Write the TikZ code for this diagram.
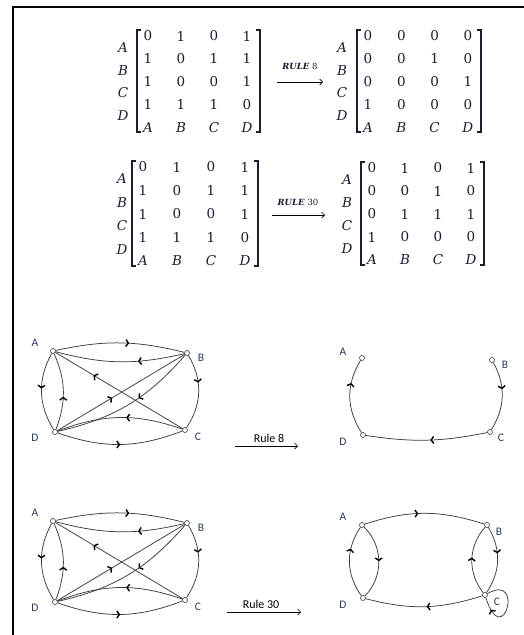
\documentclass[tikz,border=0pt]{standalone}
\usepackage{fontspec}
\newfontfamily\calib{Carlito}
\newfontfamily\camb{DejaVu Serif}
\usetikzlibrary{decorations.markings,arrows.meta}
\definecolor{navy}{HTML}{1A1D30}
\definecolor{lblc}{HTML}{2B3A5A}
\definecolor{edgec}{HTML}{3C3C3C}
\tikzset{
  ent/.style={inner sep=0pt, font=\camb\fontsize{13.5}{13.5}\selectfont, text=navy},
  brk/.style={draw=navy, line width=1.6pt},
  rulelbl/.style={inner sep=0pt, font=\camb\fontsize{8.5}{8.5}\selectfont\bfseries\itshape, text=navy},
  rulearr/.style={draw=black, line width=0.7pt, -{Straight Barb[length=3pt,width=6pt]}},
  vtx/.style={circle, draw=edgec, fill=white, inner sep=0pt, minimum size=5pt, line width=0.6pt},
  vlbl/.style={inner sep=0pt, font=\calib\fontsize{11.5}{11.5}\selectfont, text=lblc},
  ln/.style={draw=edgec, line width=0.75pt},
  ma/.style={postaction={decorate,decoration={markings,mark=at position #1 with {\arrow[black]{Straight Barb[length=2.5pt,width=7pt,line width=1.4pt]}}}}},
  ma/.default=0.5
}
\newcommand\admat[7]{%
  \foreach \rw [count=\i] in {#7} {%
    \foreach \e [count=\j] in \rw {%
      \node[ent] (#1-\i-\j) at ({#2+(\j-1)*#3},{#4+(\i-1)*#5}) {\e};
    }%
  }%
  \foreach \l [count=\j] in {A,B,C,D} {%
    \node[ent, font=\camb\itshape\fontsize{13.5}{13.5}\selectfont] (#1-c\j) at ({#2+(\j-1)*#3},{#4+4*#5}) {\l};
    \node[ent, font=\camb\itshape\fontsize{13.5}{13.5}\selectfont] (#1-r\j) at (#6,{#4+(\j-0.5)*#5}) {\l};
  }%
  \draw[brk] ({#2-7},{#4-6}) -- ({#2-11},{#4-6}) -- ({#2-11},{#4+4*#5+5}) -- ({#2-7},{#4+4*#5+5});
  \draw[brk] ({#2+3*#3+9},{#4-6}) -- ({#2+3*#3+13},{#4-6}) -- ({#2+3*#3+13},{#4+4*#5+5}) -- ({#2+3*#3+9},{#4+4*#5+5});
}
\begin{document}
\begin{tikzpicture}[x=1pt,y=-1pt]
\useasboundingbox (0,0) rectangle (524,635);
\fill[white] (0,0) rectangle (524,635);
% frame
\draw[line width=1.8pt, black] (13,640) -- (13,7) -- (524,7);

% matrices
\admat{ma}{148}{33}{36}{22.8}{123}{{0,1,0,1},{1,0,1,1},{1,0,0,1},{1,1,1,0}}
\admat{mb}{368}{33.3}{36}{22.8}{342}{{0,0,0,0},{0,0,1,0},{0,0,0,1},{1,0,0,0}}
\admat{mc}{143}{34}{167}{23.5}{122}{{0,1,0,1},{1,0,1,1},{1,0,0,1},{1,1,1,0}}
\admat{md}{372}{33}{168}{23}{347}{{0,1,0,1},{0,0,1,0},{0,1,1,1},{1,0,0,0}}

% rule arrows (matrices)
\node[rulelbl] (r8) at (300,66) {RULE\ \upshape\mdseries 8};
\coordinate (r8s) at (277,82); \coordinate (r8e) at (323,82);
\draw[rulearr] (r8s) -- (r8e);
\node[rulelbl] (r30) at (298,202) {RULE\ \upshape\mdseries 30};
\coordinate (r30s) at (272,215); \coordinate (r30e) at (325,215);
\draw[rulearr] (r30s) -- (r30e);

% graph 1 and graph 3 (same)
\foreach \g/\dy in {g1/0, g3/170} {
\begin{scope}[shift={(0,\dy)}]
  \node[vtx] (\g A) at (53,351) {};
  \node[vtx] (\g B) at (187,353) {};
  \node[vtx] (\g C) at (185,430) {};
  \node[vtx] (\g D) at (55,432) {};
  \node[vlbl] (\g lA) at (35,343) {A};
  \node[vlbl] (\g lB) at (201,358) {B};
  \node[vlbl] (\g lC) at (198,437) {C};
  \node[vlbl] (\g lD) at (35,438) {D};
  \draw[ln, ma=0.57] (\g A) to[bend left=13] (\g B);
  \draw[ln, ma=0.36] (\g B) to[bend left=14] (\g A);
  \draw[ln, ma=0.46] (\g A) to[bend right=30] (\g D);
  \draw[ln, ma=0.43] (\g D) to[bend right=22] (\g A);
  \draw[ln, ma=0.38] (\g B) to[bend left=32] (\g C);
  \draw[ln, ma=0.70] (\g C) -- (\g A);
  \draw[ln, ma=0.43] (\g D) -- (\g B);
  \draw[ln, ma=0.42] (\g B) to[bend left=18] (\g D);
  \draw[ln, ma=0.45] (\g C) to[bend right=20] (\g D);
  \draw[ln, ma=0.5] (\g D) to[bend right=20] (\g C);
\end{scope}
}

% graph 2 (Rule 8)
\node[vtx] (g2A) at (362,358) {};
\node[vtx] (g2B) at (492,360) {};
\node[vtx] (g2C) at (490,432) {};
\node[vtx] (g2D) at (363,435) {};
\node[vlbl] (g2lA) at (343,352) {A};
\node[vlbl] (g2lB) at (505,365) {B};
\node[vlbl] (g2lC) at (501,438) {C};
\node[vlbl] (g2lD) at (343,442) {D};
\draw[ln, ma=0.68] (g2D) to[bend left=32] (g2A);
\draw[ln, ma=0.4] (g2B) to[bend left=30] (g2C);
\draw[ln, ma=0.47] (g2C) to[bend left=10] (g2D);

% graph 4 (Rule 30)
\node[vtx] (g4A) at (362,525) {};
\node[vtx] (g4B) at (487,525) {};
\node[vtx] (g4C) at (485,595) {};
\node[vtx] (g4D) at (363,598) {};
\node[vlbl] (g4lA) at (343,517) {A};
\node[vlbl] (g4lB) at (499,532) {B};
\node[vlbl] (g4lC) at (497,602) {C};
\node[vlbl] (g4lD) at (343,605) {D};
\draw[ln, ma=0.45] (g4A) to[bend left=18] (g4B);
\draw[ln, ma=0.5] (g4A) to[bend left=45] (g4D);
\draw[ln, ma=0.68] (g4D) to[bend left=35] (g4A);
\draw[ln, ma=0.4] (g4B) to[bend left=32] (g4C);
\draw[ln, ma=0.53] (g4C) to[bend left=40] (g4B);
\draw[ln, ma=0.48] (g4C) to[bend left=16] (g4D);
\draw[ln, ma=0.82] (g4C) .. controls (525,572) and (503,652) .. (g4C);

% Rule arrows (graphs)
\node[inner sep=0pt, font=\calib\fontsize{12}{12}\selectfont] (t8) at (269,438) {Rule 8};
\coordinate (a8s) at (235,446); \coordinate (a8e) at (298,446);
\draw[rulearr] (a8s) -- (a8e);
\node[inner sep=0pt, font=\calib\fontsize{12}{12}\selectfont] (t30) at (261,604) {Rule 30};
\coordinate (a30s) at (227,612); \coordinate (a30e) at (301,612);
\draw[rulearr] (a30s) -- (a30e);
\end{tikzpicture}
\end{document}
